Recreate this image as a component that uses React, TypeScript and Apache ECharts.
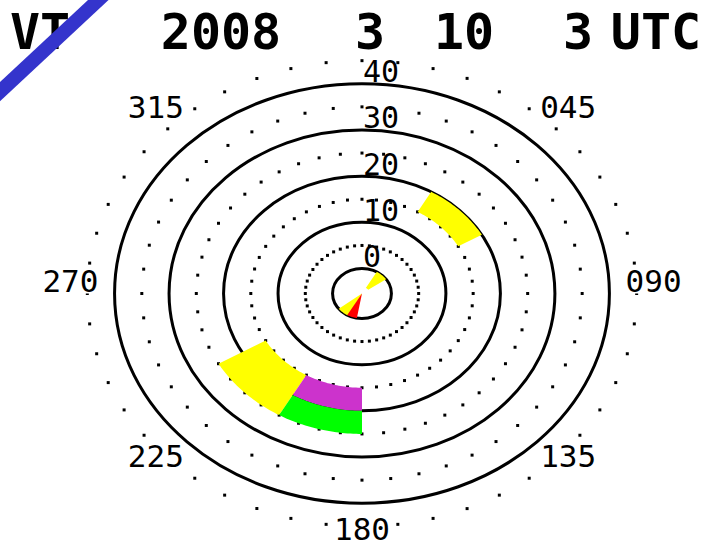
import React, { useEffect, useRef } from "react";
import * as echarts from "echarts";

// ---- data ----
const titleTokens = ["VT", "2008", "3", "10", "3", "UTC"];
const ringValues = [0, 10, 20, 30, 40];
const ringLabels = ["0", "10", "20", "30", "40"];
const dottedRingValues = [5, 15, 25, 35, 45];
const angleLabels = ["045", "090", "135", "180", "225", "270", "315"];
const angleLabelBearings = [45, 90, 135, 180, 225, 270, 315];
// sectors: bearing range (deg, clockwise from north) and value range
const sectorBearingStart = [30, 210, 180, 180, 30, 208, 190];
const sectorBearingEnd = [60, 240, 210, 210, 55, 232, 210];
const sectorInner = [15, 15, 15, 20, -4, -5.4, -5.4];
const sectorOuter = [20, 25, 20, 25, 0, 0, 0];
const sectorKind = ["yellow", "yellow", "magenta", "green", "yellow", "yellow", "red"];

// ---- styling / layout ----
const palette: Record<string, string> = {
  yellow: "#ffff00",
  magenta: "#cc33cc",
  green: "#00ff00",
  red: "#ff0000",
};
const OFFSET = 5.4; // display radius of value 0
const DOT_STEP = 7.5;
const ANGLE_LABEL_R = 53.5; // display radius of bearing labels
const titleCenters = [40, 221, 370, 464, 578, 656];
const MONO = "'DejaVu Sans Mono', monospace";

function toXY(bearing: number, v: number): number[] {
  const d = v + OFFSET;
  const a = (bearing * Math.PI) / 180;
  return [d * Math.sin(a), d * Math.cos(a)];
}

export default function App() {
  const ref = useRef<HTMLDivElement>(null);
  useEffect(() => {
    document.body.style.margin = "0";
    if (!ref.current) return;
    const chart = echarts.init(ref.current, undefined, { renderer: "svg" });

    const option: any = {
      animation: false,
      backgroundColor: "#ffffff",
      grid: { left: 0, right: 0, top: 0, bottom: 0 },
      xAxis: { type: "value", min: -66.42, max: 66.61, show: false },
      yAxis: { type: "value", min: -55.09, max: 63.53, show: false },
      series: [
        {
          type: "custom",
          name: "dotted rings",
          clip: false,
          data: dottedRingValues.map((v) => [v]),
          renderItem: (params: any, api: any) => {
            const v = api.value(0);
            const children: any[] = [];
            for (let b = 0; b < 360; b += DOT_STEP) {
              const p = api.coord(toXY(b, v));
              children.push({
                type: "rect",
                shape: { x: p[0] - 1.5, y: p[1] - 1.5, width: 3, height: 3 },
                style: { fill: "#000" },
              });
            }
            return { type: "group", children };
          },
          z: 1,
        },
        {
          type: "custom",
          name: "rings",
          clip: false,
          data: ringValues.map((v) => [v]),
          renderItem: (params: any, api: any) => {
            const v = api.value(0);
            const c = api.coord([0, 0]);
            const s = api.size([v + OFFSET, v + OFFSET]);
            return {
              type: "ellipse",
              shape: { cx: c[0], cy: c[1], rx: s[0], ry: s[1] },
              style: { fill: "none", stroke: "#000", lineWidth: 3 },
            };
          },
          z: 2,
        },
        {
          type: "custom",
          name: "sectors",
          clip: false,
          data: sectorBearingStart.map((b0, i) => [b0, sectorBearingEnd[i], sectorInner[i], sectorOuter[i], i]),
          renderItem: (params: any, api: any) => {
            const b0 = api.value(0);
            const b1 = api.value(1);
            const v0 = api.value(2);
            const v1 = api.value(3);
            const idx = api.value(4);
            const pts: number[][] = [];
            const n = Math.max(2, Math.ceil(Math.abs(b1 - b0)));
            for (let k = 0; k <= n; k++) pts.push(api.coord(toXY(b0 + ((b1 - b0) * k) / n, v1)));
            for (let k = n; k >= 0; k--) pts.push(api.coord(toXY(b0 + ((b1 - b0) * k) / n, v0)));
            return {
              type: "polygon",
              shape: { points: pts },
              style: { fill: palette[sectorKind[idx]], stroke: null },
            };
          },
          z: 3,
        },
        {
          type: "custom",
          name: "ring labels",
          clip: false,
          data: ringValues.map((v, i) => [v, i]),
          renderItem: (params: any, api: any) => {
            const v = api.value(0);
            const i = api.value(1);
            const p = api.coord([0, v + OFFSET]);
            return {
              type: "text",
              x: p[0] + 1,
              y: p[1] + 1,
              style: {
                text: ringLabels[i],
                fill: "#000",
                font: `30px ${MONO}`,
                lineHeight: 26,
                align: "left",
                verticalAlign: "bottom",
              },
            };
          },
          z: 4,
        },
        {
          type: "custom",
          name: "bearing labels",
          clip: false,
          data: angleLabelBearings.map((b, i) => [b, i]),
          renderItem: (params: any, api: any) => {
            const b = api.value(0);
            const i = api.value(1);
            const p = api.coord(toXY(b, ANGLE_LABEL_R - OFFSET));
            return {
              type: "text",
              x: p[0],
              y: p[1] - 12,
              style: {
                text: angleLabels[i],
                fill: "#000",
                font: `31px ${MONO}`,
                lineHeight: 24,
                align: "center",
                verticalAlign: "middle",
                backgroundColor: "#fff",
              },
            };
          },
          z: 5,
        },
      ],
      graphic: [
        ...titleTokens.map((t, i) => ({
          type: "text",
          x: titleCenters[i],
          y: 32,
          z: 50,
          style: {
            text: t,
            fill: "#000",
            font: `bold 50px ${MONO}`,
            lineHeight: 40,
            align: "center",
            verticalAlign: "middle",
          },
        })),
        {
          type: "line",
          z: 100,
          shape: { x1: 109, y1: -10, x2: -10, y2: 101 },
          style: { stroke: "#3434cc", lineWidth: 14 },
        },
      ],
    };
    chart.setOption(option);
    return () => chart.dispose();
  }, []);
  return <div ref={ref} style={{ width: 725, height: 548 }} />;
}
